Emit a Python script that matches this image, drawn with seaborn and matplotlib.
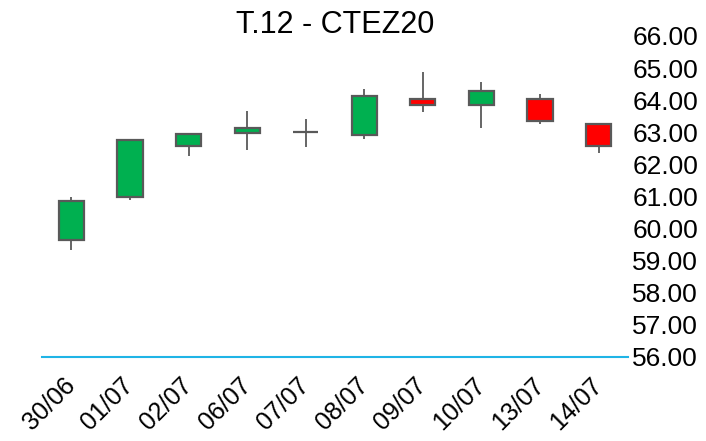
import numpy as np
import pandas as pd
import matplotlib
matplotlib.use("Agg")
import matplotlib.pyplot as plt
import seaborn as sns

# ================================
# DATA
# ================================

dates = ["30/06", "01/07", "02/07", "06/07", "07/07",
         "08/07", "09/07", "10/07", "13/07", "14/07"]
opens = [59.64, 60.98, 62.58, 62.98, 63.01, 62.92, 64.03, 63.85, 64.03, 63.26]
closes = [60.86, 62.76, 62.94, 63.14, 63.01, 64.14, 63.85, 64.29, 63.35, 62.58]
highs = [60.98, 62.76, 62.97, 63.67, 63.40, 64.34, 64.88, 64.57, 64.18, 63.26]
lows = [59.33, 60.89, 62.27, 62.45, 62.54, 62.78, 63.64, 63.14, 63.25, 62.34]
y_ticks = [56, 57, 58, 59, 60, 61, 62, 63, 64, 65, 66]

df = pd.DataFrame({"date": dates, "open": opens, "close": closes,
                   "high": highs, "low": lows})
df["up"] = df["close"] >= df["open"]
df["bottom"] = df[["open", "close"]].min(axis=1)
df["height"] = (df["close"] - df["open"]).abs()

# ================================
# PLOT
# ================================

sns.set_style("white")
plt.rcParams["font.family"] = ["Liberation Sans", "DejaVu Sans"]
plt.rcParams["text.color"] = "black"
plt.rcParams["xtick.color"] = "black"
plt.rcParams["ytick.color"] = "black"

fig = plt.figure(figsize=(7.06, 4.41), dpi=100)
ax = fig.add_axes([0.0595, 0.1905, 0.83, 0.7279])

x = np.arange(len(df))
edge = "#595959"

ax.vlines(x, df["low"], df["high"], color=edge, linewidth=1.3, zorder=1)
colors = np.where(df["up"], "#00b050", "#ff0000")
ax.bar(x, df["height"], bottom=df["bottom"], width=0.43,
       color=colors, edgecolor=edge, linewidth=1.6, zorder=2)

ax.set_xlim(-0.5, len(df) - 0.5)
ax.set_ylim(56, 66)
ax.set_yticks(y_ticks)
ax.set_yticklabels([f"{v:.2f}" for v in y_ticks], fontsize=19)
ax.yaxis.tick_right()
ax.set_xticks(x)
ax.set_xticklabels(dates, rotation=45, ha="right", va="center",
                   rotation_mode="anchor", fontsize=18)
ax.tick_params(axis="y", length=0, pad=3)
ax.tick_params(axis="x", length=0, pad=18)

for side in ["top", "left", "right"]:
    ax.spines[side].set_visible(False)
ax.spines["bottom"].set_color("#1fb4e6")
ax.spines["bottom"].set_linewidth(1.5)

ax.set_title("T.12 - CTEZ20", fontsize=22, pad=2)

fig.savefig("out.png", dpi=100)
